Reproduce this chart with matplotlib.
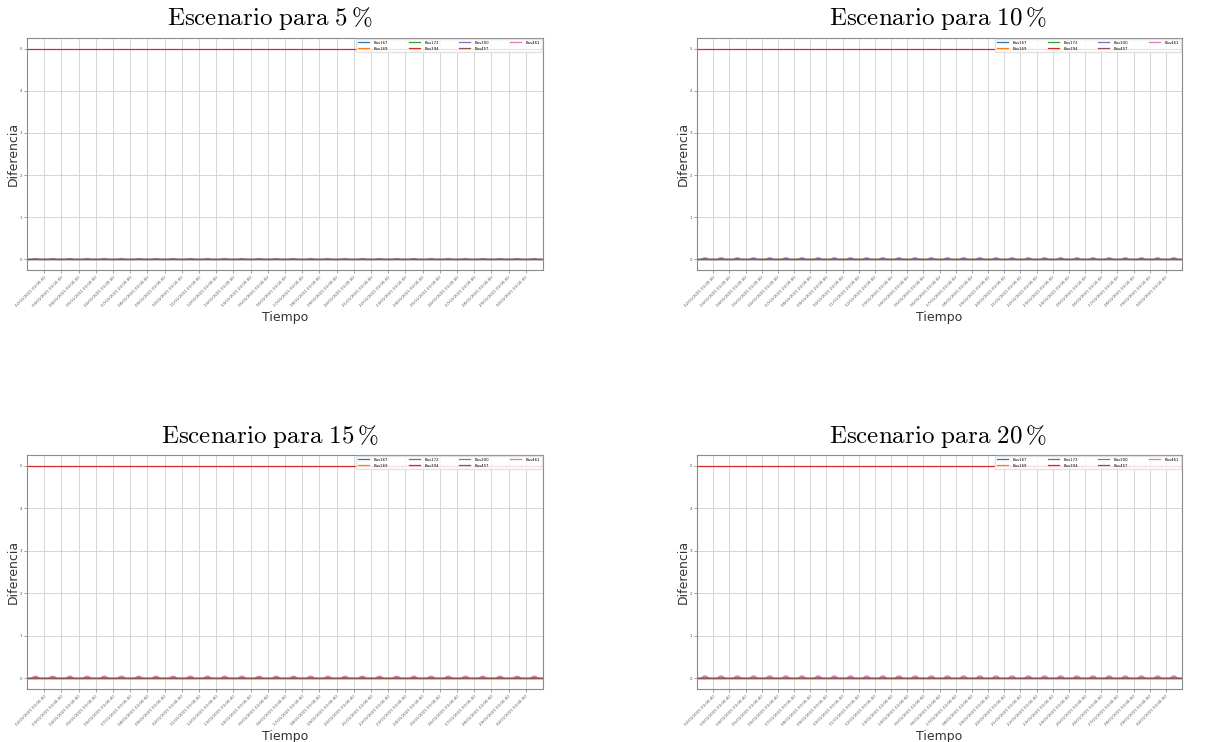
import matplotlib
matplotlib.use("Agg")
import matplotlib.pyplot as plt
import matplotlib.dates as mdates
import numpy as np
import pandas as pd

plt.rcParams["mathtext.fontset"] = "cm"

# Series names in plotting order
buses = ["Bus167", "Bus169", "Bus172", "Bus394", "Bus300", "Bus457", "Bus461"]
colores = ["#1f77b4", "#ff7f0e", "#2ca02c", "#d62728", "#9467bd", "#8c564b", "#e377c2"]

escenarios = [5, 10, 15, 20]

# Hourly time axis: 30 days
inicio = "2021-01-01 00:00:00"
dias = 30

# Constant difference of the saturated bus (same in every scenario)
nivel_bus394 = 5.0

# Daily hourly profile (00h..23h) of the difference for each bus and scenario
perfil_bus461 = {
    5:  [0, 0, 0, 0, 0, 0, 0, 0.004, 0.010, 0.015, 0.019, 0.021, 0.022, 0.021, 0.018, 0.013, 0.007, 0.002, 0, 0, 0, 0, 0, 0],
    10: [0, 0, 0, 0, 0, 0, 0, 0.008, 0.020, 0.030, 0.037, 0.041, 0.042, 0.041, 0.036, 0.027, 0.015, 0.005, 0, 0, 0, 0, 0, 0],
    15: [0, 0, 0, 0, 0, 0, 0, 0.010, 0.024, 0.036, 0.044, 0.048, 0.050, 0.048, 0.043, 0.033, 0.018, 0.006, 0, 0, 0, 0, 0, 0],
    20: [0, 0, 0, 0, 0, 0, 0, 0.012, 0.028, 0.041, 0.050, 0.055, 0.057, 0.055, 0.049, 0.038, 0.021, 0.007, 0, 0, 0, 0, 0, 0],
}
perfil_bus300 = {
    5:  [0, 0, 0, 0, 0, 0, 0, 0.002, 0.005, 0.008, 0.010, 0.011, 0.011, 0.010, 0.009, 0.006, 0.003, 0.001, 0, 0, 0, 0, 0, 0],
    10: [0, 0, 0, 0, 0, 0, 0, 0.004, 0.010, 0.015, 0.018, 0.020, 0.021, 0.020, 0.018, 0.013, 0.007, 0.002, 0, 0, 0, 0, 0, 0],
    15: [0, 0, 0, 0, 0, 0, 0, 0.005, 0.012, 0.018, 0.022, 0.024, 0.025, 0.024, 0.021, 0.016, 0.009, 0.003, 0, 0, 0, 0, 0, 0],
    20: [0, 0, 0, 0, 0, 0, 0, 0.006, 0.014, 0.020, 0.025, 0.027, 0.028, 0.027, 0.024, 0.019, 0.010, 0.003, 0, 0, 0, 0, 0, 0],
}
perfil_cero = [0.0] * 24

tiempo = pd.date_range(inicio, periods=dias * 24 + 1, freq="h")
ticks = pd.date_range(tiempo[0] + pd.Timedelta(days=1), periods=dias - 1, freq="D")


def serie(perfil):
    valores = np.tile(np.asarray(perfil, dtype=float), dias)
    return np.append(valores, perfil[0])


W, H = 1214, 742
fig = plt.figure(figsize=(W / 100, H / 100), dpi=100)

# Axes rectangles in pixels: (left, top, right, bottom)
cajas = {
    5: (27, 38, 543, 270),
    10: (697, 38, 1182, 270),
    15: (27, 455, 543, 689),
    20: (697, 455, 1182, 689),
}
centro_titulo = {5: 270, 10: 938, 15: 270, 20: 938}

for esc in escenarios:
    l, t, r, b = cajas[esc]
    ax = fig.add_axes([l / W, 1 - b / H, (r - l) / W, (b - t) / H])
    datos = {
        "Bus167": serie(perfil_cero),
        "Bus169": serie(perfil_cero),
        "Bus172": serie(perfil_cero),
        "Bus394": np.full(len(tiempo), nivel_bus394),
        "Bus300": serie(perfil_bus300[esc]),
        "Bus457": serie(perfil_cero),
        "Bus461": serie(perfil_bus461[esc]),
    }
    for nombre, color in zip(buses, colores):
        z = 1.9 if nombre == "Bus461" else 2.0
        ax.plot(tiempo, datos[nombre], color=color, lw=0.9, label=nombre, zorder=z)

    ax.set_xlim(tiempo[0], tiempo[-1])
    ax.set_xticks(ticks)
    ax.xaxis.set_major_formatter(mdates.DateFormatter("%d/%m/%Y %H:%M:%S"))
    ax.set_ylim(-0.25, 5.25)
    ax.set_yticks([0, 1, 2, 3, 4, 5])
    ax.grid(True, color="#d0d0d0", lw=0.6)
    ax.set_axisbelow(True)
    for s in ax.spines.values():
        s.set_color("#8a8a8a")
        s.set_linewidth(0.8)
    ax.tick_params(axis="both", labelsize=2.9, length=2, width=0.4,
                   colors="#555555", pad=1.5)
    for lab in ax.get_xticklabels():
        lab.set_rotation(45)
        lab.set_ha("right")
        lab.set_rotation_mode("anchor")

    ax.set_xlabel("Tiempo", fontsize=9, color="#333333")
    ax.set_ylabel("Diferencia", fontsize=9, color="#333333")
    ax.xaxis.set_label_coords(0.5, -0.175)
    ax.yaxis.set_label_coords(-0.015, 0.5)

    ax.legend(loc="upper right", ncol=4, fontsize=2.8, handlelength=2.8,
              columnspacing=5.3, handletextpad=1.2, borderaxespad=0.3,
              frameon=True, framealpha=0.85, edgecolor="#dddddd",
              fancybox=False)

    fig.text(centro_titulo[esc] / W, 1 - (t - 19) / H,
             r"$\mathrm{Escenario\ para\ %d\,\%%}$" % esc,
             fontsize=18, ha="center", va="center")

fig.savefig("out.png", dpi=100, facecolor="white")
